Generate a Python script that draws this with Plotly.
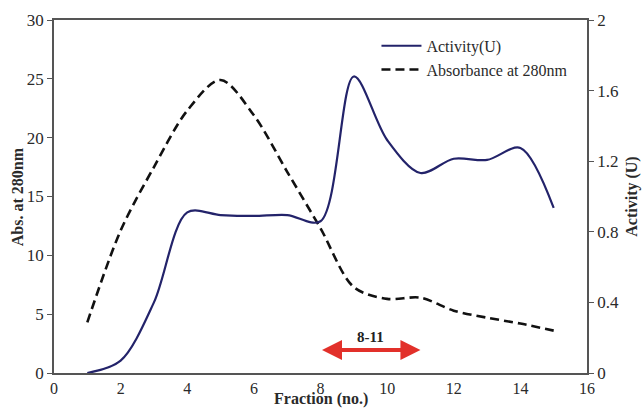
import plotly.graph_objects as go

# Fraction numbers collected from the column
fractions = list(range(1, 16))

# Absorbance at 280 nm (left axis)
absorbance = [4.3, 12.1, 17.5, 22.3, 24.9, 21.9, 17.1, 12.3, 7.3, 6.3, 6.4, 5.3, 4.7, 4.2, 3.6]

# Enzyme activity in U (right axis)
activity = [0.0, 0.07, 0.40, 0.91, 0.895, 0.89, 0.895, 0.86, 1.68, 1.32, 1.133, 1.214, 1.207, 1.275, 0.935]

# Pooled fraction range
pool_start, pool_end = 8, 11
pool_label = "8-11"

x_ticks = list(range(0, 17, 2))
left_ticks = [0, 5, 10, 15, 20, 25, 30]
right_ticks = [0, 0.4, 0.8, 1.2, 1.6, 2]
right_tick_text = ["0", "0.4", "0.8", "1.2", "1.6", "2"]

serif = "Liberation Serif, Times New Roman, serif"
axis_color = "#555555"
text_color = "#2a2a2a"
tick_font = dict(family=serif, size=17, color=text_color)
title_font = dict(family=serif, size=16, color=text_color)

fig = go.Figure()

fig.add_trace(go.Scatter(
    x=fractions, y=activity, name="Activity(U)", yaxis="y2",
    mode="lines", line=dict(color="#23236a", width=2.2, shape="spline", smoothing=0.9),
))
fig.add_trace(go.Scatter(
    x=fractions, y=absorbance, name="Absorbance at 280nm", yaxis="y",
    mode="lines", line=dict(color="#111111", width=2.6, dash="9px,5px", shape="spline", smoothing=0.9),
))

# Double-headed arrow marking the pooled fractions
fig.add_annotation(
    x=pool_end, y=1.95, ax=pool_start, ay=1.95, xref="x", yref="y", axref="x", ayref="y",
    text="", showarrow=True, arrowside="end+start", arrowhead=2, arrowsize=1.0,
    arrowwidth=4, arrowcolor="#e2302a",
)
fig.add_annotation(
    x=(pool_start + pool_end) / 2, y=2.25, xref="x", yref="y", text="<b>" + pool_label + "</b>",
    showarrow=False, font=dict(family=serif, size=15, color="#222222"), yanchor="bottom",
)

# Axis titles placed in paper coordinates
fig.add_annotation(x=0.5, y=-0.102, xref="paper", yref="paper", text="<b>Fraction (no.)</b>",
                   showarrow=False, font=title_font, xanchor="center", yanchor="bottom",
                   borderpad=0)
fig.add_annotation(x=-0.068, y=0.5, xref="paper", yref="paper", text="<b>Abs. at 280nm</b>",
                   showarrow=False, font=title_font, textangle=-90, xanchor="center", yanchor="middle")
fig.add_annotation(x=1.083, y=0.5, xref="paper", yref="paper", text="<b>Activity (U)</b>",
                   showarrow=False, font=title_font, textangle=-90, xanchor="center", yanchor="middle")

fig.update_layout(
    width=642, height=409,
    margin=dict(l=54, r=55, t=20, b=36),
    paper_bgcolor="white", plot_bgcolor="white",
    font=dict(family=serif, size=17, color=text_color),
    showlegend=True,
    legend=dict(x=0.605, y=0.975, xanchor="left", yanchor="top", bgcolor="rgba(0,0,0,0)",
                font=dict(family=serif, size=16, color=text_color), tracegroupgap=0,
                itemwidth=40),
    xaxis=dict(range=[0, 16], tickvals=x_ticks, showgrid=False, zeroline=False,
               showline=True, linecolor=axis_color, linewidth=1.5, mirror=True,
               ticks="", ticklen=0, tickfont=dict(family=serif, size=16, color=text_color),
               automargin=False),
    yaxis=dict(range=[0, 30], tickvals=left_ticks, showgrid=False, zeroline=False,
               showline=True, linecolor=axis_color, linewidth=1.5,
               ticks="outside", ticklen=5, tickcolor=axis_color, tickfont=tick_font,
               automargin=False),
    yaxis2=dict(range=[0, 2], tickvals=right_ticks, ticktext=right_tick_text,
                overlaying="y", side="right", showgrid=False, zeroline=False,
                showline=True, linecolor=axis_color, linewidth=1.5,
                ticks="outside", ticklen=5, tickcolor=axis_color, tickfont=tick_font,
                automargin=False),
)

fig.write_html("out.html")
